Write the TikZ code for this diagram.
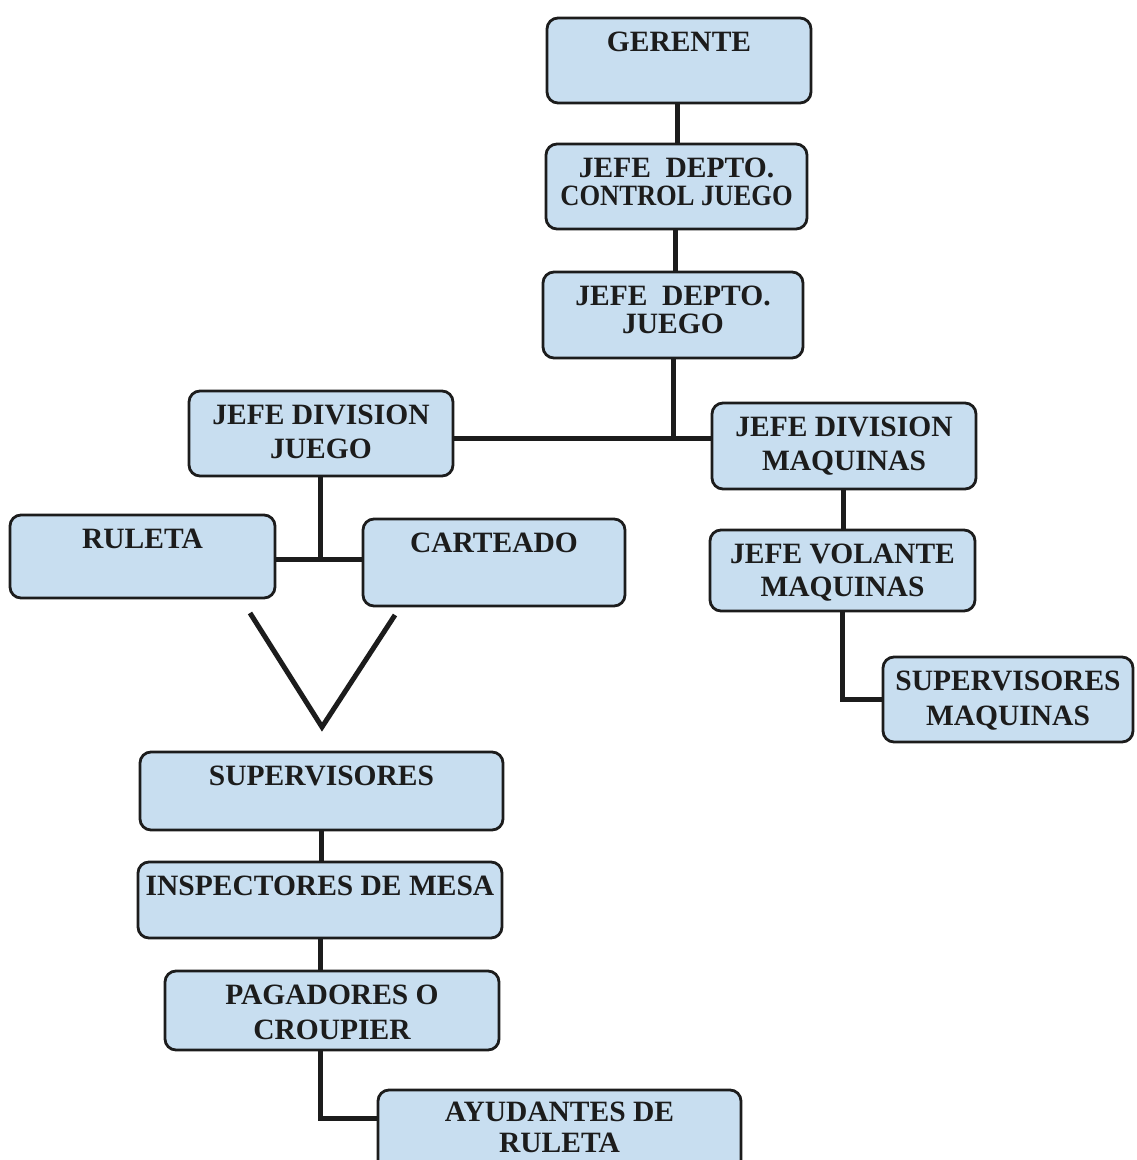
\documentclass[tikz,border=0pt]{standalone}
\usepackage{fontspec}
\setmainfont{Liberation Serif}
\definecolor{boxfill}{RGB}{200,222,240}
\definecolor{ink}{RGB}{28,28,28}
\tikzset{
 box/.style={draw=ink, line width=2.8pt, fill=boxfill, rounded corners=11pt, inner sep=0pt},
 lbl/.style={anchor=north, inner sep=0pt, align=center, text=ink},
 conn/.style={draw=ink, line width=5pt},
}
\newcommand\orgbox[8][15]{%
 \node[box, minimum width={#5-#3}, minimum height={#6-#4}] (#2) at ({(#3+#5)/2},{(#4+#6)/2}) {};
 \node[lbl, font=\fontsize{29.5}{#8}\selectfont\bfseries] (#2-t) at ([yshift=-#1pt]#2.north) {#7};
}
\begin{document}
\begin{tikzpicture}[x=1pt,y=-1pt]
\useasboundingbox (0,0) rectangle (1136,1160);
\orgbox{ger}{547}{18}{811}{103}{GERENTE}{30}
\orgbox{ctl}{546}{144}{807}{229}{JEFE\enspace DEPTO.\\\scalebox{0.9}[1]{CONTROL JUEGO}}{28}
\orgbox{jg}{543}{272}{803}{358}{JEFE\enspace DEPTO.\\JUEGO}{28}
\orgbox{divj}{189}{391}{453}{476}{JEFE DIVISION\\JUEGO}{34}
\orgbox{divm}{712}{403}{976}{489}{JEFE DIVISION\\MAQUINAS}{34}
\orgbox{rul}{10}{515}{275}{598}{RULETA}{30}
\orgbox{cart}{363}{519}{625}{606}{CARTEADO}{30}
\orgbox{vol}{710}{530}{975}{611}{JEFE VOLANTE\\MAQUINAS}{33}
\orgbox{supm}{883}{657}{1133}{742}{SUPERVISORES\\MAQUINAS}{35}
\orgbox{sup}{140}{752}{503}{830}{SUPERVISORES}{30}
\orgbox{insp}{138}{862}{502}{938}{INSPECTORES DE MESA}{30}
\orgbox{pag}{165}{971}{499}{1050}{PAGADORES O\\CROUPIER}{35}
\orgbox[13]{ayu}{378}{1090}{741}{1172}{AYUDANTES DE\\RULETA}{31}

\coordinate (x1) at (677,0);
\coordinate (x2) at (675,0);
\coordinate (x3) at (843,0);
\coordinate (x4) at (321,0);
\coordinate (jsplit) at (673,438);
\coordinate (dsplit) at (320,559);
\coordinate (vl) at (250,613);
\coordinate (vtip) at (322,727);
\coordinate (vr) at (395,615);
\coordinate (ay) at (378,1118);

\draw[conn] (ger.south -| x1) -- (ctl.north -| x1);
\draw[conn] (ctl.south -| x2) -- (jg.north -| x2);
\draw[conn] (jg.south) -- (jg.south |- jsplit);
\draw[conn] (divj.east |- jsplit) -- (divm.west |- jsplit);
\draw[conn] (divj.south -| dsplit) -- (dsplit);
\draw[conn] (rul.east |- dsplit) -- (cart.west |- dsplit);
\draw[conn] (divm.south -| x3) -- (vol.north -| x3);
\draw[conn] (vol.south) |- (supm.west);
\draw[conn] (vl) -- (vtip) -- (vr);
\draw[conn] (sup.south -| x4) -- (insp.north -| x4);
\draw[conn] (insp.south) -- (insp.south |- pag.north);
\draw[conn] (insp.south |- pag.south) |- (ay);
\end{tikzpicture}
\end{document}
